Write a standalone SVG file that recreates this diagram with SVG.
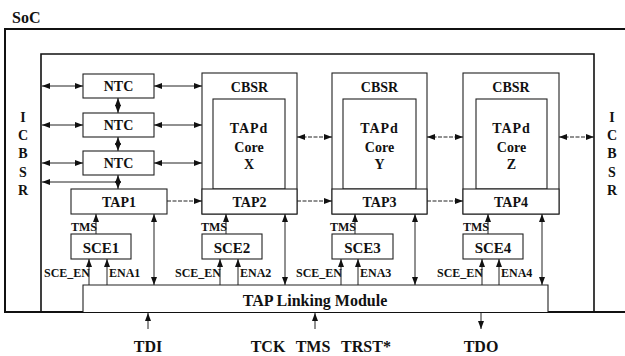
<svg xmlns="http://www.w3.org/2000/svg" width="625" height="356" viewBox="0 0 625 356">
<defs>
<marker id="ah" viewBox="0 0 8 6" refX="8" refY="3" markerWidth="8" markerHeight="6" markerUnits="userSpaceOnUse" orient="auto-start-reverse">
<path d="M0,0 L8,3 L0,6 z" fill="#111"/>
</marker>
<style>
text{font-family:"Liberation Serif","Times New Roman",serif;font-weight:bold;fill:#111}
.b{fill:#fff;stroke:#222;stroke-width:1.1}
.frame{fill:none;stroke:#111}
.c{fill:none;stroke:#222;stroke-width:1}
.bi{marker-start:url(#ah);marker-end:url(#ah)}
.one{marker-end:url(#ah)}
.d{stroke-dasharray:4 1.5}
.t14{font-size:14px;text-anchor:middle}
.t16{font-size:16px;text-anchor:middle}
.s12{font-size:12px}
</style>
</defs>
<rect width="625" height="356" fill="#fff"/>

<g id="soc">
<text x="12" y="23" style="font-size:16px">SoC</text>
<path class="frame" d="M625,29 L5,29 L5,312 L625,312" stroke-width="2"/>
</g>

<g id="icbsr-boundary">
<path class="frame" d="M41,312 L41,54 L594,54 L594,312" stroke-width="1.6"/>
</g>

<g id="icbsr-left">
<text class="t14" x="23" y="122">I</text>
<text class="t14" x="23" y="140">C</text>
<text class="t14" x="23" y="158">B</text>
<text class="t14" x="23" y="177">S</text>
<text class="t14" x="23" y="195">R</text>
</g>
<g id="icbsr-right">
<text class="t14" x="612" y="122">I</text>
<text class="t14" x="612" y="140">C</text>
<text class="t14" x="612" y="158">B</text>
<text class="t14" x="612" y="177">S</text>
<text class="t14" x="612" y="195">R</text>
</g>

<g id="ntc1"><rect class="b" x="83" y="74" width="71" height="24"/><text class="t14" x="118.5" y="91">NTC</text></g>
<g id="ntc2"><rect class="b" x="83" y="113" width="71" height="24"/><text class="t14" x="118.5" y="130">NTC</text></g>
<g id="ntc3"><rect class="b" x="83" y="151" width="71" height="24"/><text class="t14" x="118.5" y="168">NTC</text></g>

<g id="tap1"><rect class="b" x="71" y="189" width="96" height="25"/><text class="t14" x="119" y="207">TAP1</text></g>

<g id="core-x">
<rect class="b" x="202" y="73" width="95" height="141"/>
<text class="t14" x="249.5" y="92">CBSR</text>
<rect class="b" x="213" y="99" width="72" height="90"/>
<text class="t14" x="249" y="133" letter-spacing="1">TAPd</text>
<text class="t14" x="249" y="152">Core</text>
<text class="t14" x="249" y="169">X</text>
</g>
<g id="tap2"><rect class="b" x="202" y="189" width="95" height="25"/><text class="t14" x="249.5" y="207">TAP2</text></g>

<g id="core-y">
<rect class="b" x="332" y="73" width="95" height="141"/>
<text class="t14" x="379.5" y="92">CBSR</text>
<rect class="b" x="343" y="99" width="73" height="90"/>
<text class="t14" x="379.5" y="133" letter-spacing="1">TAPd</text>
<text class="t14" x="379.5" y="152">Core</text>
<text class="t14" x="379.5" y="169">Y</text>
</g>
<g id="tap3"><rect class="b" x="332" y="189" width="95" height="25"/><text class="t14" x="379.5" y="207">TAP3</text></g>

<g id="core-z">
<rect class="b" x="463" y="73" width="96" height="141"/>
<text class="t14" x="511" y="92">CBSR</text>
<rect class="b" x="476" y="99" width="71" height="90"/>
<text class="t14" x="511.5" y="133" letter-spacing="1">TAPd</text>
<text class="t14" x="511.5" y="152">Core</text>
<text class="t14" x="511.5" y="169">Z</text>
</g>
<g id="tap4"><rect class="b" x="463" y="189" width="96" height="25"/><text class="t14" x="511" y="207">TAP4</text></g>

<g id="sce1"><rect class="b" x="71" y="234" width="60" height="25"/><text class="t14" x="101" y="253" style="font-size:15px">SCE1</text></g>
<g id="sce2"><rect class="b" x="202" y="234" width="60" height="25"/><text class="t14" x="232" y="253" style="font-size:15px">SCE2</text></g>
<g id="sce3"><rect class="b" x="332" y="234" width="61" height="25"/><text class="t14" x="362.5" y="253" style="font-size:15px">SCE3</text></g>
<g id="sce4"><rect class="b" x="463" y="234" width="60" height="25"/><text class="t14" x="493" y="253" style="font-size:15px">SCE4</text></g>

<g id="tlm"><path class="b" d="M83,312 L83,285 L548,285 L548,312"/><text class="t16" x="315" y="306">TAP Linking Module</text></g>

<g id="connectors">
<line class="c bi" x1="42" y1="86" x2="83" y2="86"/>
<line class="c bi" x1="42" y1="125" x2="83" y2="125"/>
<line class="c bi" x1="42" y1="163" x2="83" y2="163"/>
<line class="c bi" x1="154" y1="86" x2="202" y2="86"/>
<line class="c bi" x1="154" y1="125" x2="202" y2="125"/>
<line class="c bi" x1="154" y1="163" x2="202" y2="163"/>
<line class="c bi" x1="118" y1="98" x2="118" y2="113"/>
<line class="c bi" x1="118" y1="137" x2="118" y2="151"/>
<line class="c bi" x1="118" y1="175" x2="118" y2="189"/>
<line class="c one" x1="118" y1="182" x2="42" y2="182"/>
<circle cx="118" cy="182" r="2" fill="#111"/>
<line class="c bi d" x1="297" y1="137" x2="332" y2="137"/>
<line class="c bi d" x1="427" y1="137" x2="463" y2="137"/>
<line class="c bi d" x1="559" y1="137" x2="594" y2="137"/>
<line class="c one d" x1="167" y1="201" x2="202" y2="201"/>
<line class="c one d" x1="297" y1="201" x2="332" y2="201"/>
<line class="c one d" x1="427" y1="201" x2="463" y2="201"/>
<line class="c one" x1="96" y1="234" x2="96" y2="214"/>
<line class="c one" x1="226" y1="234" x2="226" y2="214"/>
<line class="c one" x1="355" y1="234" x2="355" y2="214"/>
<line class="c one" x1="488" y1="234" x2="488" y2="214"/>
<line class="c one" x1="89" y1="285" x2="89" y2="259"/>
<line class="c one" x1="107" y1="285" x2="107" y2="259"/>
<line class="c one" x1="220" y1="285" x2="220" y2="259"/>
<line class="c one" x1="238" y1="285" x2="238" y2="259"/>
<line class="c one" x1="341" y1="285" x2="341" y2="259"/>
<line class="c one" x1="358" y1="285" x2="358" y2="259"/>
<line class="c one" x1="482" y1="285" x2="482" y2="259"/>
<line class="c one" x1="499" y1="285" x2="499" y2="259"/>
<line class="c bi" x1="154" y1="214" x2="154" y2="285"/>
<line class="c bi" x1="285" y1="214" x2="285" y2="285"/>
<line class="c bi" x1="415" y1="214" x2="415" y2="285"/>
<line class="c bi" x1="542" y1="214" x2="542" y2="285"/>
<line class="c one" x1="148" y1="329" x2="148" y2="313"/>
<line class="c one" x1="315" y1="329" x2="315" y2="313"/>
<line class="c one" x1="481" y1="313" x2="481" y2="329"/>
</g>

<g id="labels">
<text class="s12" x="97" y="231" text-anchor="end">TMS</text>
<text class="s12" x="227" y="231" text-anchor="end">TMS</text>
<text class="s12" x="356" y="231" text-anchor="end">TMS</text>
<text class="s12" x="489" y="231" text-anchor="end">TMS</text>
<text class="s12" x="90" y="276.5" text-anchor="end">SCE_EN</text>
<text class="s12" x="109" y="276.5">ENA1</text>
<text class="s12" x="221" y="276.5" text-anchor="end">SCE_EN</text>
<text class="s12" x="240" y="276.5">ENA2</text>
<text class="s12" x="342" y="276.5" text-anchor="end">SCE_EN</text>
<text class="s12" x="360" y="276.5">ENA3</text>
<text class="s12" x="483" y="276.5" text-anchor="end">SCE_EN</text>
<text class="s12" x="501" y="276.5">ENA4</text>
<text class="t16" x="148" y="351.5">TDI</text>
<text class="t16" x="268" y="351.5">TCK</text>
<text class="t16" x="313" y="351.5">TMS</text>
<text class="t16" x="366" y="351.5">TRST*</text>
<text class="t16" x="481" y="351.5">TDO</text>
</g>
</svg>
